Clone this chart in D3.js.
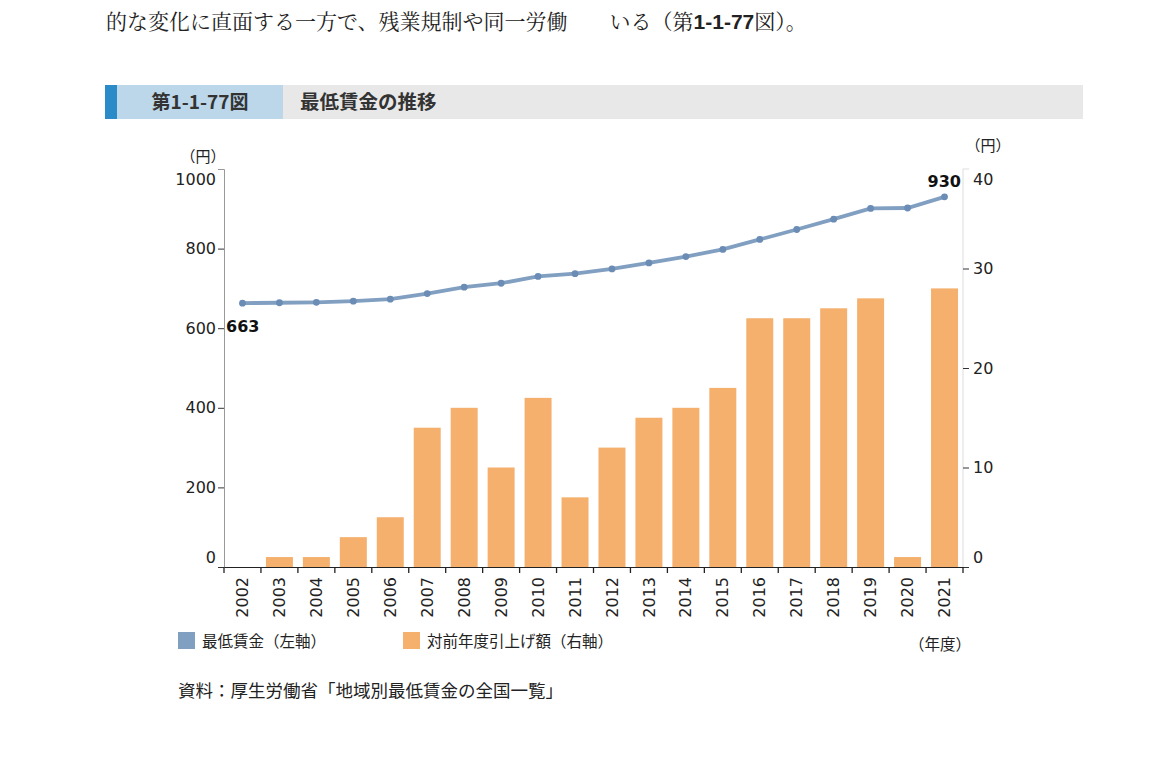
<!DOCTYPE html>
<html><head><meta charset="utf-8">
<script src="https://cdn.jsdelivr.net/npm/d3@7"></script>
<style>
body{margin:0;background:#fff;}
svg{display:block;}
</style></head>
<body>
<svg id="c" width="1173" height="767"></svg>
<script>
const years = ["2002","2003","2004","2005","2006","2007","2008","2009","2010","2011","2012","2013","2014","2015","2016","2017","2018","2019","2020","2021"];
const minWage = [663,664,665,668,673,687,703,713,730,737,749,764,780,798,823,848,874,901,902,930];
const increase = [0,1,1,3,5,14,16,10,17,7,12,15,16,18,25,25,26,27,1,28];
const leftTicks = [0,200,400,600,800,1000];
const rightTicks = [0,10,20,30,40];

const svg = d3.select("#c");
const sans = "'Noto Sans CJK JP','Noto Sans',sans-serif";
const verdana = "'DejaVu Sans','Noto Sans CJK JP',sans-serif";

// top body text
const bodyLine = svg.append("text").attr("x",106).attr("y",29)
  .attr("font-family","'Noto Serif CJK JP','Liberation Serif',serif")
  .attr("font-size",21).attr("fill","#222");
bodyLine.append("tspan").text("的な変化に直面する一方で、残業規制や同一労働　　いる（第");
bodyLine.append("tspan").attr("font-family","'Liberation Sans',Arial,sans-serif").attr("font-weight","bold").text("1-1-77");
bodyLine.append("tspan").text("図）。");

// header bar
svg.append("rect").attr("x",105).attr("y",85).attr("width",978).attr("height",34).attr("fill","#e8e8e8");
svg.append("rect").attr("x",105).attr("y",85).attr("width",178).attr("height",34).attr("fill","#bcd6ea");
svg.append("rect").attr("x",105).attr("y",85).attr("width",12).attr("height",34).attr("fill","#2a8bc8");
svg.append("text").attr("x",200).attr("y",109).attr("text-anchor","middle")
  .attr("font-family",sans).attr("font-size",19).attr("font-weight","bold").attr("fill","#333").text("第1-1-77図");
svg.append("text").attr("x",300).attr("y",109)
  .attr("font-family",sans).attr("font-size",19.5).attr("font-weight","bold").attr("fill","#333").text("最低賃金の推移");

// scales
const x = d3.scaleBand().domain(years).range([224,963]).paddingInner(0.27).paddingOuter(0.135);
const xAxisScale = d3.scaleBand().domain(years).range([224,963]);
const yL = d3.scaleLinear().domain([0,1000]).range([567,169]);
const yR = d3.scaleLinear().domain([0,40]).range([567,169]);

// bars
svg.append("g").selectAll("rect").data(years).join("rect")
  .attr("x",d=>x(d)).attr("width",x.bandwidth())
  .attr("y",(d,i)=>yR(increase[i])).attr("height",(d,i)=>yR(0)-yR(increase[i]))
  .attr("fill","#f4b06c");

// left axis
const gl = svg.append("g").attr("transform","translate(224,0)")
  .call(d3.axisLeft(yL).tickValues(leftTicks).tickSize(6).tickSizeOuter(6).tickFormat(d3.format("d")));
gl.select(".domain").attr("stroke","#999");
gl.selectAll(".tick line").attr("stroke","#333");
gl.selectAll(".tick text").attr("font-family",verdana).attr("font-size",16).attr("fill","#222").attr("x",-8)
  .attr("dy",d=> d===0 ? "-0.3em" : d===1000 ? "0.95em" : "0.32em");
gl.selectAll(".tick").filter(d=>d===1000).select("line").remove();

// right axis
const gr = svg.append("g").attr("transform","translate(963,0)")
  .call(d3.axisRight(yR).tickValues(rightTicks).tickSize(6).tickSizeOuter(6));
gr.select(".domain").attr("stroke","#ddd");
gr.selectAll(".tick line").attr("stroke","#333");
gr.selectAll(".tick text").attr("font-family",verdana).attr("font-size",16).attr("fill","#222").attr("x",10)
  .attr("dy",d=> d===0 ? "-0.3em" : d===40 ? "0.95em" : "0.32em");
gr.selectAll(".tick").filter(d=>d===40).select("line").remove();
gr.select(".domain").attr("d","M6,169H0V567");

// x axis
const gx = svg.append("g").attr("transform","translate(0,567)")
  .call(d3.axisBottom(xAxisScale).tickSize(0).tickSizeOuter(0));
gx.select(".domain").attr("stroke","#222");
gx.selectAll(".tick text").attr("font-family",verdana).attr("font-size",16).attr("fill","#222")
  .attr("transform","rotate(-90)").attr("text-anchor","end").attr("x",-10).attr("y",0).attr("dy","0.35em");
// boundary ticks
svg.append("g").selectAll("line").data(years.concat(["end"])).join("line")
  .attr("x1",(d,i)=> i<years.length ? xAxisScale(d) : xAxisScale.range()[1])
  .attr("x2",(d,i)=> i<years.length ? xAxisScale(d) : xAxisScale.range()[1])
  .attr("y1",567).attr("y2",573).attr("stroke","#222").attr("stroke-width",1.3);

// line
const cx = (d)=>xAxisScale(d)+xAxisScale.bandwidth()/2;
svg.append("path").datum(years)
  .attr("d",d3.line().x(d=>cx(d)).y((d,i)=>yL(minWage[i])))
  .attr("fill","none").attr("stroke","#819fc1").attr("stroke-width",3.8);
svg.append("g").selectAll("circle").data(years).join("circle")
  .attr("cx",d=>cx(d)).attr("cy",(d,i)=>yL(minWage[i])).attr("r",3.4).attr("fill","#6a8cb5");

// value labels
svg.append("text").attr("x",226).attr("y",yL(minWage[0])+29)
  .attr("font-family",verdana).attr("font-size",16).attr("font-weight","bold").attr("fill","#111").text(minWage[0]);
svg.append("text").attr("x",961).attr("y",yL(minWage[19])-10).attr("text-anchor","end")
  .attr("font-family",verdana).attr("font-size",16).attr("font-weight","bold").attr("fill","#111").text(minWage[19]);

// unit labels
svg.append("text").attr("x",203).attr("y",162).attr("text-anchor","middle")
  .attr("font-family",sans).attr("font-size",15).attr("fill","#222").text("（円）");
svg.append("text").attr("x",988).attr("y",151).attr("text-anchor","middle")
  .attr("font-family",sans).attr("font-size",15).attr("fill","#222").text("（円）");

// legend
svg.append("rect").attr("x",178).attr("y",632).attr("width",17).attr("height",17).attr("fill","#819fc1");
svg.append("text").attr("x",202).attr("y",647).attr("font-family",sans).attr("font-size",15.5).attr("fill","#222").text("最低賃金（左軸）");
svg.append("rect").attr("x",403).attr("y",632).attr("width",17).attr("height",17).attr("fill","#f4b06c");
svg.append("text").attr("x",427).attr("y",647).attr("font-family",sans).attr("font-size",15.5).attr("fill","#222").text("対前年度引上げ額（右軸）");
svg.append("text").attr("x",971).attr("y",650).attr("text-anchor","end").attr("font-family",sans).attr("font-size",15.5).attr("fill","#222").text("（年度）");

// source
svg.append("text").attr("x",178).attr("y",697).attr("font-family",sans).attr("font-size",17.5).attr("fill","#222").text("資料：厚生労働省「地域別最低賃金の全国一覧」");
</script>
</body></html>
